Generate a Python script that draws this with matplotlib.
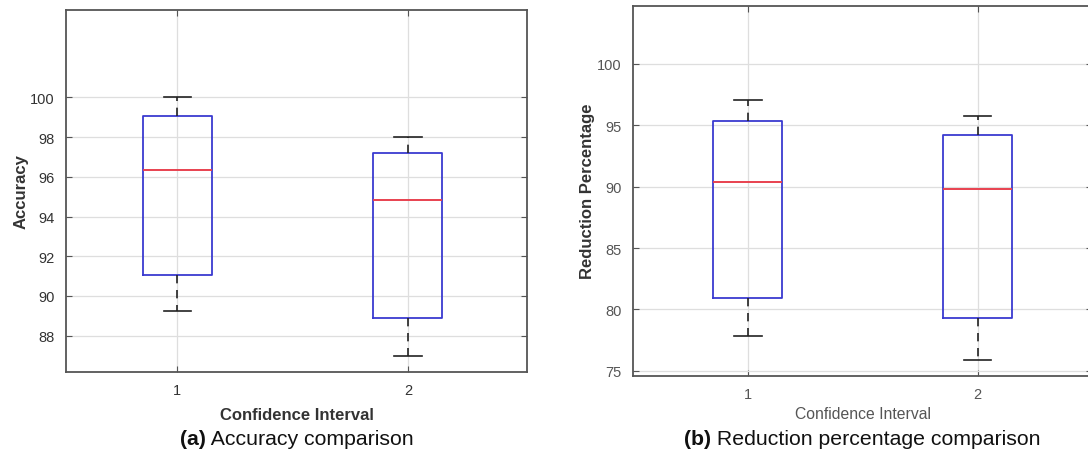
import matplotlib
matplotlib.use("Agg")
import matplotlib.pyplot as plt

plt.rcParams['font.family'] = ['Liberation Sans', 'DejaVu Sans']

# Box statistics for the two confidence-interval settings
groups = [1, 2]

acc_whislo = [89.23, 86.99]
acc_q1 = [91.06, 88.91]
acc_med = [96.32, 94.83]
acc_q3 = [99.08, 97.18]
acc_whishi = [100.0, 98.0]

red_whislo = [77.83, 75.85]
red_q1 = [80.94, 79.27]
red_med = [90.36, 89.78]
red_q3 = [95.35, 94.25]
red_whishi = [97.05, 95.78]

acc_ticks = [88, 90, 92, 94, 96, 98, 100]
red_ticks = [75, 80, 85, 90, 95, 100]


def make_stats(lo, q1, med, q3, hi):
    return [dict(whislo=a, q1=b, med=c, q3=d, whishi=e, fliers=[])
            for a, b, c, d, e in zip(lo, q1, med, q3, hi)]


def draw_panel(ax, stats, ticks, xlim, ylim, ylabel, xlabel_kw, tick_color):
    ax.bxp(stats, positions=groups, widths=0.3, capwidths=0.12,
           showfliers=False, patch_artist=False,
           boxprops=dict(color='#3a3ad0', linewidth=1.3),
           medianprops=dict(color='#e8414f', linewidth=1.4),
           whiskerprops=dict(color='#222222', linewidth=1.2,
                             linestyle=(0, (5, 4))),
           capprops=dict(color='#222222', linewidth=1.2))
    ax.set_xlim(*xlim)
    ax.set_ylim(*ylim)
    ax.set_yticks(ticks)
    ax.set_xticks(groups)
    ax.set_xticklabels([str(g) for g in groups])
    ax.grid(True, color='#dedede', linewidth=0.9)
    ax.set_axisbelow(True)
    for s in ax.spines.values():
        s.set_color('#555555')
        s.set_linewidth(1.3)
    ax.tick_params(direction='in', length=4, width=0.8, color='#555555',
                   labelsize=10.5, labelcolor=tick_color,
                   top=True, right=True, pad=8)
    ax.set_ylabel(ylabel, fontsize=12, fontweight='bold', color='#333333',
                  labelpad=1.5)
    ax.set_xlabel('Confidence Interval', **xlabel_kw)


fig = plt.figure(figsize=(10.88, 4.56), dpi=100)
ax1 = fig.add_axes([0.0607, 0.182, 0.4237, 0.7939])
ax2 = fig.add_axes([0.5818, 0.1739, 0.4223, 0.8114])

draw_panel(ax1, make_stats(acc_whislo, acc_q1, acc_med, acc_q3, acc_whishi),
           acc_ticks, (0.517, 2.517), (86.17, 104.4), 'Accuracy',
           dict(fontsize=12, fontweight='bold', color='#333333', labelpad=7),
           '#333333')
draw_panel(ax2, make_stats(red_whislo, red_q1, red_med, red_q3, red_whishi),
           red_ticks, (0.5, 2.5), (74.6, 104.75), 'Reduction Percentage',
           dict(fontsize=11.3, color='#555555', labelpad=4),
           '#555555')

# Panel captions: bold letter, regular description
for ax, letter, text, y in [(ax1, '(a)', ' Accuracy comparison', 440),
                             (ax2, '(b)', ' Reduction percentage comparison', 440)]:
    bb = ax.get_position()
    xc = (bb.x0 + bb.x1) / 2
    yc = 1 - y / 456
    t1 = fig.text(0, yc, letter, fontsize=15.3, fontweight='bold',
                  color='#111111', va='center', ha='left')
    t2 = fig.text(0, yc, text, fontsize=15.3, color='#111111',
                  va='center', ha='left')
    fig.canvas.draw()
    r = fig.canvas.get_renderer()
    w1 = t1.get_window_extent(r).width / fig.bbox.width
    w2 = t2.get_window_extent(r).width / fig.bbox.width
    x0 = xc - (w1 + w2) / 2
    t1.set_x(x0)
    t2.set_x(x0 + w1)

fig.savefig('out.png', dpi=100)
